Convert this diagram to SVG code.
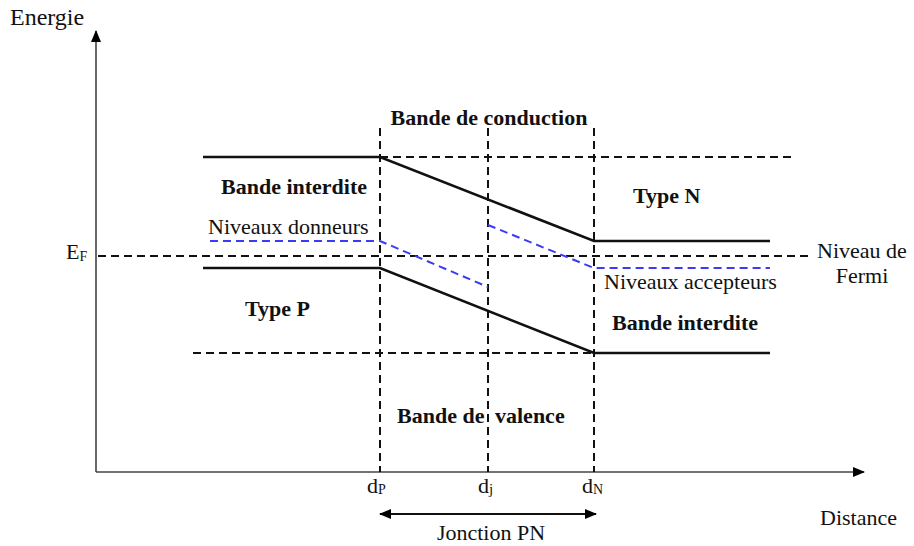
<svg xmlns="http://www.w3.org/2000/svg" width="914" height="546" viewBox="0 0 914 546">
<defs>
<marker id="ah" viewBox="0 0 12 10" refX="11" refY="5" markerWidth="12" markerHeight="10" markerUnits="userSpaceOnUse" orient="auto-start-reverse">
<path d="M0,0 L12,5 L0,10 Z" fill="#000"/>
</marker>
<style>
.t{font-family:"Liberation Serif","Times New Roman",serif;font-size:22px;fill:#111}
.b{font-weight:bold}
.dash{stroke:#111;stroke-width:2;stroke-dasharray:8 5;fill:none}
.blue{stroke:#3b3bf5;stroke-width:2;stroke-dasharray:8 5;fill:none}
.solid{stroke:#111;stroke-width:2.6;fill:none}
.axis{stroke:#444;stroke-width:1.6;fill:none}
</style>
</defs>
<rect width="914" height="546" fill="#fff"/>
<g id="axes">
<line class="axis" x1="96" y1="472" x2="96" y2="31" marker-end="url(#ah)"/>
<line class="axis" x1="96" y1="472" x2="864" y2="472" marker-end="url(#ah)"/>
<text class="t" x="10" y="25" style="font-size:24px">Energie</text>
<text class="t" x="820" y="525">Distance</text>
</g>
<g id="connectors">
<line class="dash" x1="380" y1="128" x2="380" y2="472"/>
<line class="dash" x1="488" y1="128" x2="488" y2="472"/>
<line class="dash" x1="594" y1="128" x2="594" y2="472"/>
<line class="dash" x1="380" y1="157" x2="796" y2="157"/>
<line class="dash" x1="98" y1="256" x2="810" y2="256"/>
<line class="dash" x1="193" y1="353" x2="594" y2="353"/>
<polyline class="solid" points="203,157 380,157 594,241 770,241"/>
<polyline class="solid" points="203,268 380,268 594,353 770,353"/>
<polyline class="blue" points="210,241 380,241 488,287"/>
<polyline class="blue" points="488,225 594,268 770,268"/>
<line stroke="#111" stroke-width="2.2" x1="380" y1="514" x2="596" y2="514" marker-start="url(#ah)" marker-end="url(#ah)"/>
</g>
<g id="labels">
<text class="t b" x="489" y="125" text-anchor="middle">Bande de conduction</text>
<text class="t b" x="221" y="194">Bande interdite</text>
<text class="t" x="208" y="234">Niveaux donneurs</text>
<text class="t b" x="633" y="203">Type N</text>
<text class="t" x="604" y="289">Niveaux accepteurs</text>
<text class="t b" x="245" y="316">Type P</text>
<text class="t b" x="612" y="330">Bande interdite</text>
<text class="t b" y="423"><tspan x="397">Bande de</tspan><tspan x="495">valence</tspan></text>
<text class="t" x="66" y="259">E<tspan style="font-size:14px" dy="2">F</tspan></text>
<text class="t" x="817" y="258">Niveau de</text>
<text class="t" x="862" y="283" text-anchor="middle">Fermi</text>
<text class="t" x="367" y="493">d<tspan style="font-size:14px" dy="1">P</tspan></text>
<text class="t" x="478" y="493">d<tspan style="font-size:15px" dy="1">j</tspan></text>
<text class="t" x="582" y="493">d<tspan style="font-size:14px" dy="1">N</tspan></text>
<text class="t" x="491" y="540" text-anchor="middle">Jonction PN</text>
</g>
</svg>
